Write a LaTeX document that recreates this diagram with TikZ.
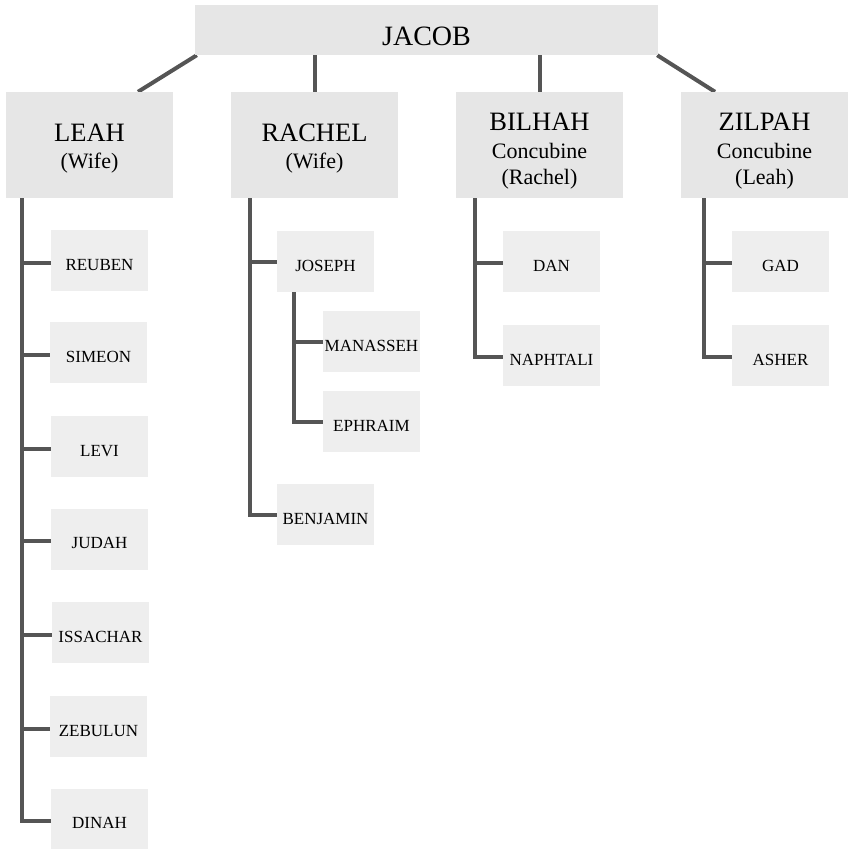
\documentclass[tikz,border=0pt]{standalone}
\usepackage{fontspec}
\setmainfont{Liberation Serif}
\usetikzlibrary{calc,backgrounds}
\definecolor{linkgray}{HTML}{555555}
\definecolor{parentfill}{HTML}{E6E6E6}
\definecolor{childfill}{HTML}{EEEEEE}
\begin{document}
\begin{tikzpicture}[x=1pt,y=-1pt,
  rootbox/.style={fill=parentfill, minimum width=463pt, minimum height=50pt, inner sep=0pt,
    text height=31pt, text depth=0pt, font=\fontsize{28}{32}\selectfont},
  parentbox/.style={fill=parentfill, minimum width=167pt, minimum height=106pt, inner sep=0pt},
  childbox/.style={fill=childfill, minimum width=97pt, minimum height=61pt, inner sep=0pt,
    text height=19pt, text depth=0pt, font=\fontsize{17}{20}\selectfont},
  pname/.style={anchor=base, inner sep=0pt, font=\fontsize{26.5}{30}\selectfont},
  prole/.style={anchor=base, inner sep=0pt, font=\fontsize{22}{24}\selectfont},
  link/.style={draw=linkgray, line width=4pt}]
\useasboundingbox (0,0) rectangle (849,849);

% root
\node[rootbox] (jacob) at (426.5,30) {JACOB};

% wives and concubines
\node[parentbox] (leah)   at (89.5,145)  {};
\node[parentbox] (rachel) at (314.5,145) {};
\node[parentbox] (bilhah) at (539.5,145) {};
\node[parentbox] (zilpah) at (764.5,145) {};

\node[pname] (leahname)   at (89.5,141)  {LEAH};
\node[prole] (leahrole)   at (89.5,168)  {(Wife)};
\node[pname] (rachelname) at (314.5,141) {RACHEL};
\node[prole] (rachelrole) at (314.5,168) {(Wife)};
\node[pname] (bilhahname) at (539.5,130) {BILHAH};
\node[prole] (bilhahrole) at (539.5,158.5) {Concubine};
\node[prole] (bilhahof)   at (539.5,184) {(Rachel)};
\node[pname] (zilpahname) at (764.5,130) {ZILPAH};
\node[prole] (zilpahrole) at (764.5,158.5) {Concubine};
\node[prole] (zilpahof)   at (764.5,184) {(Leah)};

% children of Leah
\node[childbox] (reuben)   at (99.5,260.5) {REUBEN};
\node[childbox] (simeon)   at (98.5,352.5) {SIMEON};
\node[childbox] (levi)     at (99.5,446.5) {LEVI};
\node[childbox] (judah)    at (99.5,539)   {JUDAH};
\node[childbox] (issachar) at (100.5,632.5) {ISSACHAR};
\node[childbox] (zebulun)  at (98.5,726.5) {ZEBULUN};
\node[childbox] (dinah)    at (99.5,819)   {DINAH};

% children of Rachel
\node[childbox] (joseph)   at (325.5,261.5) {JOSEPH};
\node[childbox] (manasseh) at (371.5,341.5) {MANASSEH};
\node[childbox] (ephraim)  at (371.5,421.5) {EPHRAIM};
\node[childbox] (benjamin) at (325.5,514.5) {BENJAMIN};

% children of Bilhah
\node[childbox] (dan)      at (551.5,261.5) {DAN};
\node[childbox] (naphtali) at (551.5,355.5) {NAPHTALI};

% children of Zilpah
\node[childbox] (gad)      at (780.5,261.5) {GAD};
\node[childbox] (asher)    at (780.5,355.5) {ASHER};

% trunk coordinates for the sibling bars
\coordinate (leahbar)   at (21.5,198);
\coordinate (rachelbar) at (250,198);
\coordinate (josephbar) at (294,292);
\coordinate (bilhahbar) at (475,198);
\coordinate (zilpahbar) at (704,198);

\begin{scope}[on background layer]
  \draw[link] ($(jacob.south west)+(2,0)$) -- ($(leah.north)+(48.5,0)$);
  \draw[link] (rachel.north |- jacob.south) -- (rachel.north);
  \draw[link] (bilhah.north |- jacob.south) -- (bilhah.north);
  \draw[link] ($(jacob.south east)+(-1,0)$) -- ($(zilpah.north)+(-49.5,0)$);

  \foreach \c in {reuben,simeon,levi,judah,issachar,zebulun,dinah}
    \draw[link] (leahbar) |- ($(\c.west)+(0,2)$);
  \foreach \c in {joseph,benjamin}
    \draw[link] (rachelbar) |- (\c.west);
  \foreach \c in {manasseh,ephraim}
    \draw[link] (josephbar) |- (\c.west);
  \foreach \c in {dan,naphtali}
    \draw[link] (bilhahbar) |- ($(\c.west)+(0,1.5)$);
  \foreach \c in {gad,asher}
    \draw[link] (zilpahbar) |- ($(\c.west)+(0,1.5)$);
\end{scope}
\end{tikzpicture}
\end{document}
